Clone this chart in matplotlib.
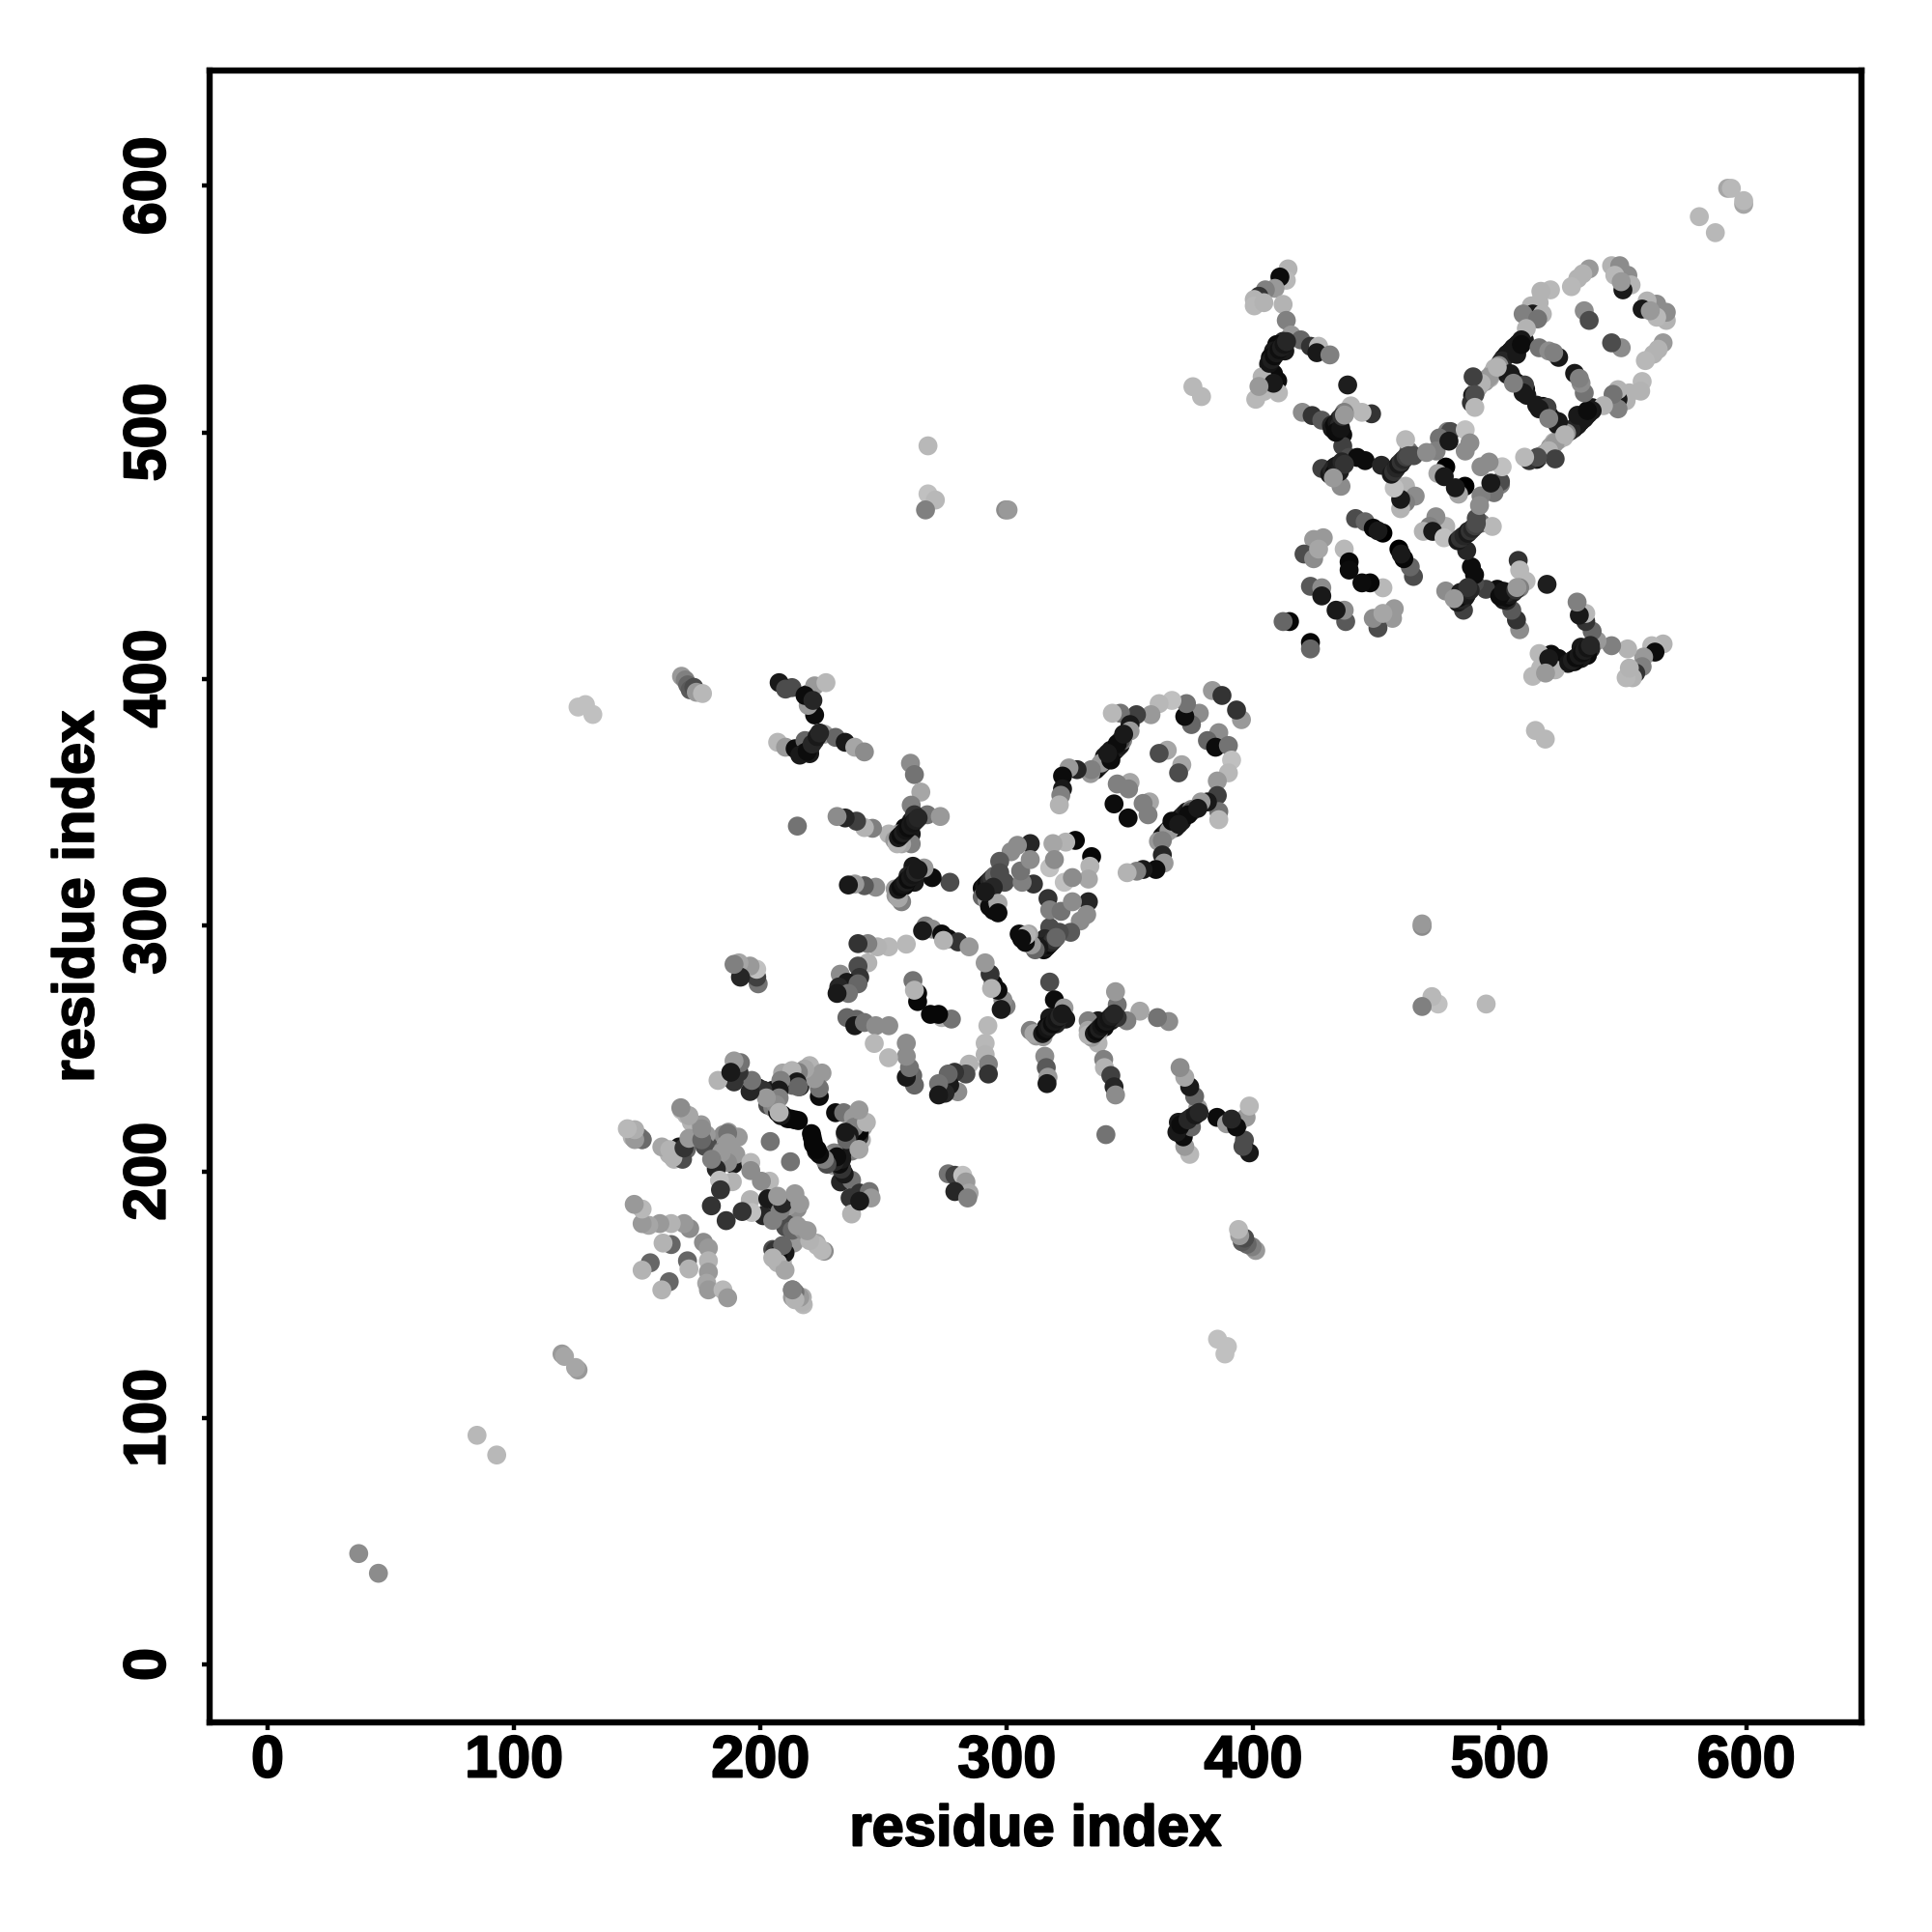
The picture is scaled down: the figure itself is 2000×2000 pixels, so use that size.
import matplotlib
matplotlib.use("Agg")
import matplotlib.pyplot as plt
import matplotlib.patheffects as pe
import numpy as np

# contacts (i, j, gray level), only one side of the diagonal, mirrored when drawn
lone_contacts = [
    (37, 45, .55), (85, 93, .72), (119.5, 126, .6), (120.5, 125, .65),
    (126, 388.5, .75), (129, 389.5, .75), (132, 385.5, .75),
    (375.5, 518.5, .72), (379, 514.5, .72),
    (268, 494.5, .72), (268, 475, .75), (271, 472.5, .72), (267, 468.5, .5),
    (299.5, 468.5, .55), (300.5, 468.5, .6),
    (581, 587.5, .72), (592.5, 599, .65), (594, 599, .72),
    (168, 401, .6), (169.5, 399.5, .5), (170.5, 397.5, .4), (171.5, 395.5, .35),
    (173, 396.5, .3), (174, 394.5, .6), (176.5, 394, .72),
    (215, 340.2, .45), (438.3, 519.2, .12),
]

# lower domain, roughly residues 150-245
domain1_inner = [
    (213, 152, .42), (213, 149, .6), (217, 149, .68), (217.4, 146, .72),
    (205, 168.4, .3), (205.7, 164.5, .7), (208.9, 163.2, .7), (209.6, 169, .2),
    (213.5, 171, .6), (210.2, 177.5, .3), (212.9, 176.2, .4), (217.4, 176.2, .55),
    (222.7, 171, .65), (225.9, 167.7, .55), (215.5, 186.7, .45), (211.6, 186.7, .6),
    (203.7, 186.7, .55), (207.6, 184.1, .6), (201.1, 182.1, .15), (205, 180.2, .5),
    (195.9, 188.6, .7), (196.5, 183.4, .75), (192.6, 183.8, .2), (186.1, 180.1, .2),
    (212.2, 204, .45), (203.7, 196.1, .72), (200.4, 196.1, .55),
]
domain1_lower = [
    (170.4, 163.8, .4), (171, 160.5, .7), (163, 155.3, .4), (160, 152, .7),
    (176.9, 171.3, .55), (178.9, 169, .6), (178.9, 163.8, .7), (178.9, 159.2, .6),
    (178.2, 154.7, .65), (178.9, 152, .6), (184.8, 152, .72), (186.7, 148.8, .6),
]
domain1_right = [
    (230.5, 223.9, .05), (233.8, 223.9, .45), (237.7, 222, .6), (241.6, 218, .65),
    (240.3, 215.4, .5), (241, 212.8, .7), (236.4, 214.8, .1), (234.4, 215.4, .4),
    (237, 208.3, .5), (233.1, 207.6, .1), (229.9, 207.6, .5), (227.2, 206.3, .55),
    (233.1, 201, .2), (229.9, 202.4, .6), (232.5, 195.8, .15), (237, 196.5, .45),
    (236.4, 189.3, .2), (240.3, 191.3, .2), (244.2, 191.9, .45), (244.9, 189.3, .6),
    (237, 182.8, .7), (240.3, 188, .1), (220.7, 215.4, .03), (221.4, 212.2, .03),
    (222.7, 208.3, .1), (224, 207.6, .7),
]
domain1_upper = [
    (199, 234, .1), (201, 233, .2), (203, 232, .05), (205, 233, .1), (204, 230, .15),
    (206, 231, .05), (203, 227, .3), (205, 226, .5), (207, 224, .05), (209, 223, .03),
    (211, 221.5, .03), (214, 221, .03), (212, 239, .1), (214, 240, .2), (216, 240, .03),
    (218, 238, .5), (215, 236, .1), (213, 235, .4), (216, 234.5, .1), (209, 240, .65),
    (220, 243, .7), (225, 240, .6),
]
domain1_left = [
    (183, 213, .3), (185, 215, .55), (186, 211, .6), (188, 206, .1), (189, 203, .1),
    (184, 208, .5), (187, 209, .15), (190, 207, .6), (191, 214, .6), (187, 216, .6),
    (167, 210, .1), (168, 206, .2), (166, 207, .05), (163, 207, .7), (160, 210, .65),
    (170, 209, .4), (165, 205, .7), (168, 225, .72), (170, 223, .72), (172, 220, .7),
    (176, 219, .6), (178, 215, .6), (147, 217, .7), (149, 216, .6), (151, 214, .45),
    (148, 214, .7), (152, 213, .5),
]
domain1_far = [
    (276.2, 199.1, .45), (278.9, 198.5, .25), (282.1, 198.5, .75), (283.4, 195.8, .6),
    (284.7, 191.3, .65), (278.9, 191.9, .15), (284.1, 189.3, .5),
]

# middle domain
ring_right = [
    (395.2, 383.4, .6), (393.2, 387.3, .2), (386, 378.1, .55), (381.4, 374.9, .4),
    (384.7, 372.2, .05), (389.9, 372.9, .45), (391.2, 367, .75), (389.9, 361.8, .72),
    (385.4, 358.5, .6), (385.4, 352.6, .25), (386, 346.1, .45), (386, 342.8, .72),
    (381.4, 350, .1), (378.8, 350, .6), (374.9, 346.1, .3), (371, 342.2, .1),
    (368.4, 339.6, .1), (365.8, 338.3, .6), (363.1, 334.3, .5), (363.1, 328.5, .15),
    (363.8, 325.2, .6), (360.5, 322.6, .05), (355.3, 322.6, .1), (352.7, 321.9, .5),
    (348.8, 321.3, .7), (357.9, 350, .65), (355.3, 349.4, .5), (349.2, 343.5, .05),
    (371, 365.1, .65), (369.7, 361.8, .3), (357.3, 344.8, .5), (367, 342.2, .05),
    (373.6, 344.8, .05), (377.5, 347.4, .1), (369.7, 340.9, .1),
]
ring_right_band = [
    (363, 336, .1), (364, 337, .05), (365, 338, .12), (366, 339, .08), (367, 340, .05),
    (368, 341, .12), (369, 342, .08), (370, 343, .1), (371, 344, .05), (372, 345, .15),
    (373, 346, .1), (375, 347, .5), (361.5, 334, .6),
]
ring_centre = [
    (334.4, 327.8, .03), (333.7, 323.9, .7), (333.1, 318.7, .65), (323.3, 317.4, .75),
    (326.6, 319.3, .55), (333.1, 309.5, .15), (332.4, 304.3, .55), (329.8, 301.7, .55),
    (325.9, 297.1, .35), (321.3, 297.1, .3), (317.4, 299.1, .3), (315.4, 294.5, .15),
    (308.9, 296.4, .65), (305, 296.4, .05), (313.5, 291.2, .1), (316.7, 310.8, .2),
    (317.4, 306.2, .5), (322, 305.6, .45), (326.6, 309.5, .55),
    (290, 315, .05), (291, 316, .1), (292, 317, .05), (293, 318, .15), (294, 319, .2),
    (295, 320, .4), (291, 313, .1), (290, 311.5, .4), (292, 310, .6), (293, 307.5, .05),
    (296, 308, .7), (294.5, 306, .05),
]
stem_far_left = [
    (207, 374.2, .72), (210.2, 372.2, .6), (214.1, 371.6, .05), (220, 369.6, .1),
    (220, 371.6, .1), (222, 374.9, .15), (218.1, 374.9, .4), (225.9, 377.5, .6),
    (230.5, 376.2, .4), (234.4, 374.2, .1), (238.3, 372.2, .65), (242.2, 370.3, .55),
    (222, 385.3, .05), (219.4, 389.2, .6), (219.4, 393.8, .3), (222, 397.1, .6),
    (226.6, 398.4, .72), (212.8, 396.4, .3), (207.6, 398.4, .1), (210.2, 395.8, .3),
    (218.1, 393.2, .05), (221.3, 391.2, .15),
    (216, 369, .1), (218, 370, .1), (219, 370.5, .05), (221, 373.5, .15), (223, 376.5, .1),
    (224, 378, .15),
]
stem_upper = [
    (260.9, 365.7, .55), (262.5, 361.1, .45), (265.1, 354, .65), (261.2, 348.7, .5),
    (267.7, 344.8, .45), (273, 344.1, .6), (261.2, 342.2, .1), (258.6, 339.6, .05),
    (261.2, 337, .1), (256, 337, .6), (252.1, 337, .7), (261.2, 333, .5),
    (257.3, 333, .65), (245.5, 339.3, .5), (242.2, 339.6, .7), (239, 342.2, .25),
    (234.4, 343.5, .15), (231.1, 344.1, .55), (262.5, 344.8, .2),
    (254.5, 334.5, .6), (255.5, 333, .7), (256, 335.5, .1), (257, 336.5, .05),
    (258, 337.5, .12), (259, 338.5, .08), (260, 339.5, .05), (261, 340.5, .1),
    (262, 341.5, .08), (263, 342.5, .12), (264, 343.5, .15),
]
stem_lower = [
    (276.9, 317.4, .3), (269.7, 319.3, .05), (266.4, 323.2, .6), (261.9, 323.9, .1),
    (262.5, 317.4, .1), (258.6, 316, .05), (257.3, 309.5, .5), (254.7, 314.7, .6),
    (246.8, 315.4, .55), (242.2, 316, .35), (238.3, 316.7, .6), (235.7, 316.3, .1),
    (259.9, 320, .15),
    (255, 312, .6), (256, 311, .65), (256, 314.5, .1), (257, 315.5, .05), (258, 316.5, .08),
    (259, 317.5, .12), (260, 318.5, .05), (261, 319.5, .1), (262, 320.5, .08),
    (263, 321.5, .15), (264, 322.5, .1),
]
ladder = [
    (267.1, 299.7, .5), (269.7, 298.4, .55), (273.6, 296.4, .05), (276.2, 294.5, .05),
    (280.2, 293.2, .2), (284.7, 291.2, .6), (274.3, 293.8, .7), (265.8, 297.7, .1),
]
ring_left = [
    (259.2, 292.3, .72), (252.1, 291.2, .72), (247.5, 291.2, .7), (243.6, 292.5, .5),
    (239.6, 292.5, .2), (243.6, 284.7, .7), (239.6, 283.4, .3), (240.3, 278.8, .2),
    (232.4, 280.1, .55), (235.1, 276.8, .1), (239.6, 276.2, .4), (231.8, 274.9, .15),
    (235.7, 272.3, .45), (231.1, 272.3, .1),
    (261.9, 277.5, .45), (263.8, 272.3, .03), (263.8, 269, .03), (273.6, 262.5, .7),
]
stem_bottom = [
    (235.1, 262.5, .4), (239, 261.8, .4), (238.3, 259.2, .1), (242.2, 260.5, .45),
    (246.8, 259.2, .55), (252.1, 259.2, .55), (246.2, 252, .72),
]

# upper domain
arm_top_left = [
    (414.1, 566.3, .7), (413.4, 561.7, .72), (410.8, 563, .05), (408.8, 558.4, .6),
    (404.9, 557.8, .5), (402.3, 555.2, .2), (400.4, 553.9, .7), (400.4, 551.3, .72),
    (404.3, 552.6, .7), (412.1, 551.9, .7), (413.4, 545.4, .5), (415.4, 539.5, .6),
    (412.1, 536.9, .15), (419.3, 537.5, .4), (423.2, 534.9, .2), (426.5, 534.9, .72),
    (425.8, 532.3, .1), (431.1, 531.4, .5), (409.5, 535.6, .05), (408.2, 533, .1),
    (406.9, 530.3, .05), (406.2, 527.7, .15), (412.8, 533, .1), (408.2, 523.8, .05),
    (409.9, 520.9, .05), (403.6, 522.5, .7), (404.3, 516.6, .72), (401, 513.4, .72),
    (410.2, 516, .72), (408.2, 519.9, .1), (402.3, 518.6, .6),
    (406.5, 528, .08), (407.5, 529.5, .12), (408.5, 531, .05), (409.5, 532.2, .1),
    (410.5, 533.5, .06), (411.5, 534.5, .12), (412.5, 535.7, .08), (413.5, 536.8, .15),
]
arm_middle = [
    (448, 507.5, .2), (444.1, 508.1, .72), (439.6, 510.7, .72), (436.9, 508.1, .5),
    (419.9, 508.1, .55), (423.9, 506.8, .2), (427.8, 504.9, .35), (431.7, 502.9, .15),
    (434.3, 501.6, .1), (435, 505.5, .15), (436.3, 499, .05), (436.3, 494.4, .25),
    (427.8, 485.3, .25), (433, 485.9, .1), (435, 485.9, .05), (438.9, 489.8, .3),
    (435.6, 478.1, .55), (442.2, 489.8, .05), (445.4, 488.5, .05), (452, 486.6, .15),
    (457.9, 485.3, .05), (459.8, 487.2, .1), (463.1, 492.4, .45), (461.8, 497, .72),
    (465.1, 490.5, .3), (461.8, 478.1, .7), (465.7, 474.1, .55), (461.8, 471.5, .5),
    (459.8, 469, .7), (459.8, 472.8, .1), (457.2, 477.4, .75),
    (432, 501.5, .1), (433, 503, .05), (434, 504, .1), (435, 503, .15), (433.5, 500, .05),
    (435.5, 501.5, .08), (436, 506.5, .2), (437, 507, .6),
    (431, 483, .1), (432, 484.5, .15), (433, 483.5, .05), (434, 486.5, .1), (435, 484, .12),
    (436, 488, .15), (437, 487, .2), (432.5, 481.5, .6),
    (456, 483, .1), (457, 484, .2), (458, 485.5, .15), (459, 487, .1), (460, 488, .2),
    (461, 489, .15), (462, 490, .25), (463, 490.5, .3),
]
centre_cross = [
    (478.1, 485.9, 0), (478.8, 500.3, .5), (480, 500.3, .3), (475.5, 497.7, .45),
    (474.2, 492.4, .5), (470.3, 491.8, .55), (479.4, 496.4, .1), (474.9, 483.3, .65),
    (477.5, 482, .1), (486, 501, .75), (487.9, 495.7, .55), (486, 492.4, .55),
]
ring_upper = [
    (536.3, 566.3, .6), (533.7, 564.3, .7), (531.7, 562.4, .7), (529.1, 559.1, .72),
    (520.6, 557.8, .72), (516.7, 557.2, .7), (516, 552.6, .7), (512.8, 551.3, .7),
    (513.4, 548, .1), (509.5, 548, .5), (517.3, 548, .7), (515.4, 546, .45),
    (510.8, 542.1, .7), (508.8, 537.5, .1), (505.6, 534.3, .1), (502.9, 531.6, .1),
    (501, 529, .15), (499.7, 527.1, .55), (495.8, 522.5, .6), (492.5, 519.9, .7),
    (489.2, 522.5, .25), (489.9, 515.3, .3), (489.9, 510.1, .72), (504.3, 523.8, .1),
    (510.1, 519.2, .25), (509.5, 516, .1), (505.6, 519.9, .5), (506.9, 531.6, .1),
    (508.8, 535.6, .05), (499, 526.4, .7), (516, 534.3, .45), (523.9, 530.4, .1),
    (519.9, 533, .55), (521.9, 532.3, .5), (545.4, 567.6, .7), (548.7, 567.6, .55),
    (552, 563.7, .55), (546.7, 563.7, .72), (553.3, 559.8, .7), (550, 557.8, .1),
    (534.3, 549.3, .55), (536.3, 545.4, .3), (549.3, 561.1, .6),
]
ring_upper_band = [
    (497, 524, .65), (496, 522, .7), (494, 520.5, .6), (498, 526, .7),
    (490.5, 517, .6), (491.5, 518.5, .65), (493, 520.5, .7), (494.5, 521.5, .65),
    (489, 515, .1), (488.5, 512, .2),
    (500.5, 528.5, .1), (501.5, 530, .15), (502.5, 531, .08), (503.5, 532, .12),
    (504.5, 533, .05), (505.5, 534, .15), (506.5, 535, .08), (507.5, 536, .1),
    (509, 537, .05), (510, 537.5, .1),
    (503, 523.5, .1), (505, 522, .2), (507, 520, .05), (509, 518.5, .1),
    (510.5, 517.5, .03), (511, 515, .1),
]
band_inner = [
    (441.5, 465, .3), (445.4, 463.7, .4), (448.7, 461.1, .03), (452.6, 459.1, 0),
    (450.6, 460, .1), (428.4, 457.2, .6), (424.5, 456.5, .6), (420.6, 450.6, .3),
    (424.5, 448.7, .55), (426.5, 452.6, .65), (436.9, 452.6, .72), (438.9, 447.4, .03),
    (438.9, 444.1, .05), (423.2, 437.5, .35), (427.8, 436.9, .55), (427.8, 433.6, .1),
    (414.7, 423.2, .03), (412.1, 423.2, .4),
]

all_groups = [
    lone_contacts, domain1_left, domain1_inner, domain1_lower, domain1_upper,
    domain1_right, domain1_far, ring_left, stem_bottom, ladder, stem_lower,
    stem_upper, stem_far_left, ring_centre, ring_right_band, ring_right,
    arm_top_left, arm_middle, centre_cross, ring_upper_band, ring_upper, band_inner,
]

tick_values = [0, 100, 200, 300, 400, 500, 600]
axis_name = "residue index"

plt.rcParams['font.family'] = ['Liberation Sans', 'DejaVu Sans']
plt.rcParams['font.weight'] = 'bold'

fig = plt.figure(figsize=(10, 10), dpi=200)
ax = fig.add_axes([217 / 2000, 1 - 1783 / 2000, 1710 / 2000, 1710 / 2000])

contacts = np.array([c for group in all_groups for c in group])
xs = np.concatenate([contacts[:, 0], contacts[:, 1]])
ys = np.concatenate([contacts[:, 1], contacts[:, 0]])
grays = np.concatenate([contacts[:, 2], contacts[:, 2]])
ax.scatter(xs, ys, c=grays, cmap='gray', vmin=0, vmax=1, s=50, linewidths=0)

ax.set_xlim(-23.5, 646.8)
ax.set_ylim(-23.5, 646.8)
ax.set_xticks(tick_values)
ax.set_yticks(tick_values)
ax.tick_params(axis='both', length=3, width=1.6, labelsize=22)
ax.tick_params(axis='x', pad=1.5)
ax.tick_params(axis='y', pad=9)
plt.setp(ax.get_yticklabels(), rotation=90, va='center')
for side in ax.spines.values():
    side.set_linewidth(2.3)

ax.set_xlabel(axis_name, fontsize=21.5, fontweight='bold', va='center')
ax.set_ylabel(axis_name, fontsize=21.5, fontweight='bold', va='center')
ax.xaxis.set_label_coords(0.5, -0.0655)
ax.yaxis.set_label_coords(-0.0795, 0.5)

# the original lettering is a heavier bold
heavy = [pe.withStroke(linewidth=0.7, foreground='black')]
for label in ax.get_xticklabels() + ax.get_yticklabels() + [ax.xaxis.label, ax.yaxis.label]:
    label.set_path_effects(heavy)

fig.savefig("out.png", dpi=200)
